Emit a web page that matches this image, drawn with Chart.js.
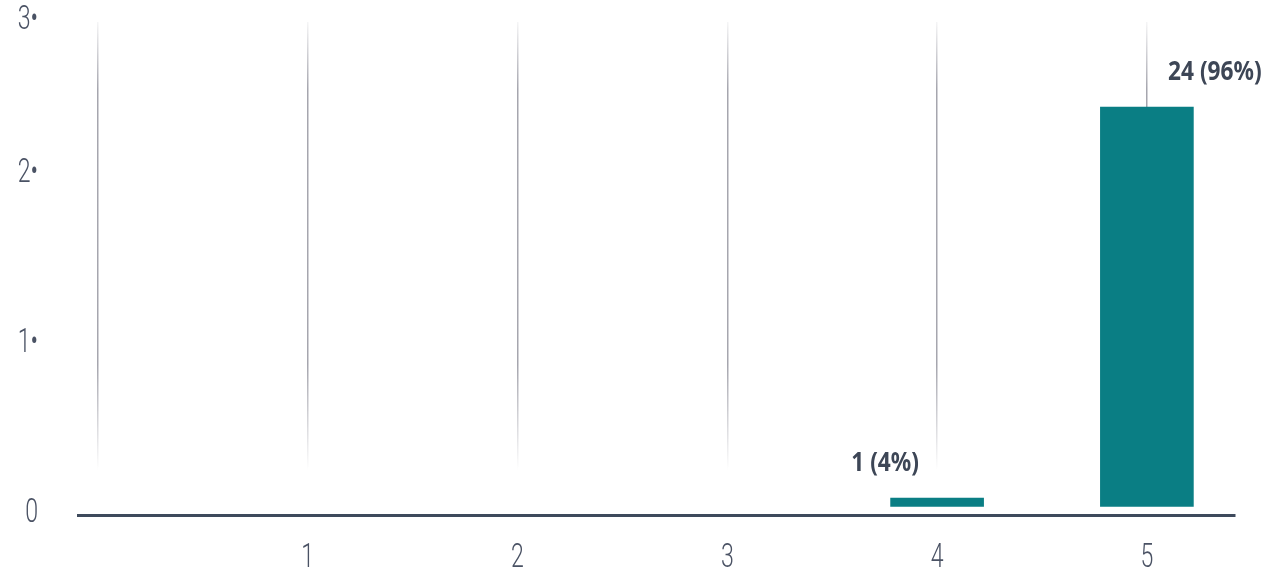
<!DOCTYPE html>
<html>
<head>
<meta charset="utf-8">
<script src="https://cdn.jsdelivr.net/npm/chart.js@4"></script>
<style>
  html, body { margin: 0; padding: 0; background: #fff; }
  #wrap { width: 1275px; height: 579px; }
</style>
</head>
<body>
<div id="wrap"><canvas id="chart"></canvas></div>
<script>
// values
const categories = [0, 1, 2, 3, 4, 5];
const xTickLabels = ['', '1', '2', '3', '4', '5'];
const counts = [0, 0, 0, 0, 1, 24];
const percents = [0, 0, 0, 0, 4, 96];
const yTickValues = [0, 10, 20, 29];
const yTickLabels = ['0', '1•', '2•', '3•'];

const textColor = '#4a5264';

// fading vertical grid lines
const gridColor = (ctx) => {
  const area = ctx.chart.chartArea;
  if (!area) return 'rgba(150,150,160,0.6)';
  const g = ctx.chart.ctx.createLinearGradient(0, area.top - 8, 0, area.bottom);
  g.addColorStop(0, 'rgba(150,150,160,0)');
  g.addColorStop(0.15, 'rgba(150,150,160,0.85)');
  g.addColorStop(0.7, 'rgba(150,150,160,0.85)');
  g.addColorStop(0.91, 'rgba(150,150,160,0)');
  g.addColorStop(1, 'rgba(150,150,160,0)');
  return g;
};

// squeezed text, the original uses a condensed face
function narrowText(ctx, text, x, y, sx) {
  ctx.save();
  ctx.translate(x, y);
  ctx.scale(sx, 1);
  ctx.fillText(text, 0, 0);
  ctx.restore();
}

const condensedTicks = {
  id: 'condensedTicks',
  afterDraw(chart) {
    const { ctx, scales } = chart;
    ctx.save();
    ctx.fillStyle = textColor;
    ctx.font = '300 34px Roboto, sans-serif';
    ctx.textBaseline = 'middle';
    ctx.textAlign = 'center';
    categories.forEach((v, i) => {
      narrowText(ctx, xTickLabels[i], scales.x.getPixelForValue(v), scales.x.top + 43, 0.68);
    });
    ctx.textAlign = 'right';
    yTickValues.forEach((v, i) => {
      narrowText(ctx, yTickLabels[i], scales.y.right - 40, scales.y.getPixelForValue(v) - 2, 0.68);
    });
    ctx.restore();
  }
};

const valueLabels = {
  id: 'valueLabels',
  afterDatasetsDraw(chart, args, opts) {
    const { ctx } = chart;
    const meta = chart.getDatasetMeta(0);
    ctx.save();
    ctx.font = 'bold 27px "Noto Sans", Lato, sans-serif';
    ctx.fillStyle = '#3d4656';
    ctx.textAlign = 'center';
    ctx.textBaseline = 'middle';
    meta.data.forEach((bar, i) => {
      if (!counts[i]) return;
      const dx = opts.shift[i] || 0;
      narrowText(ctx, counts[i] + ' (' + percents[i] + '%)', bar.x + dx, bar.y - 35, 0.84);
    });
    ctx.restore();
  }
};

new Chart(document.getElementById('chart'), {
  type: 'bar',
  data: {
    datasets: [{
      data: categories.map((c, i) => ({ x: c, y: counts[i] || null })),
      backgroundColor: '#0a7e84',
      barThickness: 93,
      base: 0.5
    }]
  },
  plugins: [valueLabels, condensedTicks],
  options: {
    responsive: true,
    maintainAspectRatio: false,
    animation: false,
    layout: { padding: { top: 22, right: 40 } },
    plugins: {
      legend: { display: false },
      tooltip: { enabled: false },
      valueLabels: { shift: [0, 0, 0, 0, -52, 68] }
    },
    scales: {
      x: {
        type: 'linear',
        min: -0.095,
        max: 5.42,
        offset: false,
        afterFit: (s) => { s.height = 64; },
        afterBuildTicks: (s) => { s.ticks = categories.map(v => ({ value: v })); },
        grid: { color: gridColor, lineWidth: 1.5, drawTicks: false, offset: false },
        border: { color: '#3e4a5c', width: 3 },
        ticks: { display: false }
      },
      y: {
        min: 0,
        max: 29,
        afterFit: (s) => { s.width = 78; s.paddingTop = 0; s.paddingBottom = 0; },
        afterBuildTicks: (s) => { s.ticks = yTickValues.map(v => ({ value: v })); },
        grid: { display: false },
        border: { display: false },
        ticks: { display: false }
      }
    }
  }
});
</script>
</body>
</html>
